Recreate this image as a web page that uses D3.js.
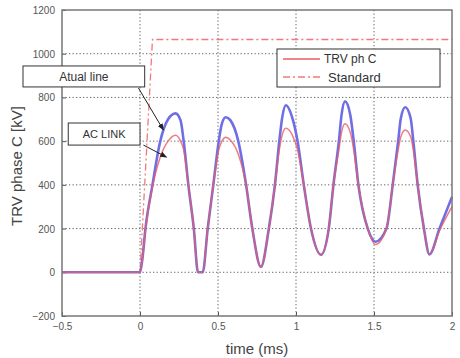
<!DOCTYPE html>
<html>
<head>
<meta charset="utf-8">
<script src="https://cdn.jsdelivr.net/npm/d3@7"></script>
<style>
  body { margin: 0; background: #fff; }
  svg { font-family: "Liberation Sans", Arial, sans-serif; }
</style>
</head>
<body>
<svg id="vis" width="460" height="358"></svg>
<script>
// time axis (ms), shared by both traces
const time = [-0.5, 0, 0.015, 0.035, 0.08, 0.13, 0.18, 0.228, 0.26, 0.28, 0.31, 0.345, 0.372, 0.402, 0.434, 0.47, 0.505,
  0.525, 0.55, 0.58, 0.63, 0.68, 0.72, 0.775, 0.826, 0.865, 0.893, 0.912, 0.935, 0.975, 1.01, 1.05, 1.096, 1.16,
  1.21, 1.24, 1.275, 1.292, 1.314, 1.348, 1.37, 1.40, 1.46, 1.51, 1.58, 1.62, 1.655, 1.672, 1.70, 1.735, 1.752,
  1.78, 1.82, 1.855, 1.92, 2.0];
// "Atual line" (blue)
const atualLine = [0, 0, 60, 200, 400, 600, 700, 727, 695, 600, 400, 200, 0, 0, 200, 400, 600,
  680, 709, 695, 600, 400, 200, 25, 200, 400, 600, 710, 764, 710, 600, 400, 200, 80,
  200, 400, 600, 720, 782, 720, 600, 400, 200, 140, 200, 400, 600, 705, 755, 705, 600,
  400, 200, 82, 200, 345];
// "AC LINK" = TRV ph C (red)
const acLink = [0, 0, 55, 195, 390, 527, 600, 627, 600, 560, 400, 200, 0, 0, 200, 400, 560,
  600, 618, 604, 540, 400, 200, 25, 200, 400, 560, 630, 659, 630, 560, 400, 200, 80,
  200, 400, 560, 640, 680, 640, 560, 400, 200, 127, 200, 400, 560, 620, 651, 620, 560,
  400, 200, 82, 190, 300];
// standard envelope
const standardTime = [-0.5, 0, 0.08, 2];
const standardKV = [0, 0, 1065, 1065];

const xTicks = [-0.5, 0, 0.5, 1, 1.5, 2];
const yTicks = [-200, 0, 200, 400, 600, 800, 1000, 1200];

const svg = d3.select('#vis');
const plot = { left: 62, right: 452, top: 10, bottom: 316 };

const x = d3.scaleLinear().domain([-0.5, 2]).range([plot.left, plot.right]);
const y = d3.scaleLinear().domain([-200, 1200]).range([plot.bottom, plot.top]);

// grid
const grid = svg.append('g').attr('stroke', '#333').attr('stroke-width', 1)
  .attr('stroke-dasharray', '1.3,2.2').attr('opacity', 0.75);
grid.selectAll('line.gx').data(xTicks.slice(1, -1)).enter().append('line')
  .attr('x1', d => x(d)).attr('x2', d => x(d)).attr('y1', plot.top).attr('y2', plot.bottom);
grid.selectAll('line.gy').data(yTicks.slice(1, -1)).enter().append('line')
  .attr('y1', d => y(d)).attr('y2', d => y(d)).attr('x1', plot.left).attr('x2', plot.right);

// axes (inward ticks, MATLAB style)
const xAxis = svg.append('g').attr('transform', 'translate(0,' + plot.bottom + ')')
  .call(d3.axisBottom(x).tickValues(xTicks).tickSize(-4).tickPadding(8).tickFormat(d3.format('')));
const yAxis = svg.append('g').attr('transform', 'translate(' + plot.left + ',0)')
  .call(d3.axisLeft(y).tickValues(yTicks).tickSize(-4).tickPadding(7).tickFormat(d3.format('')));
[xAxis, yAxis].forEach(a => {
  a.select('.domain').remove();
  a.selectAll('line').attr('stroke', '#555');
  a.selectAll('text').attr('fill', '#555').style('font-size', '10px');
});
xAxis.selectAll('text').attr('dy', '0.55em');
yAxis.selectAll('text').attr('dy', '0.35em');

// traces
const pts = vals => time.map((t, i) => [t, vals[i]]);
const line = d3.line().x(d => x(d[0])).y(d => y(d[1])).curve(d3.curveMonotoneX);

svg.append('path').datum(d3.zip(standardTime, standardKV))
  .attr('d', d3.line().x(d => x(d[0])).y(d => y(d[1])))
  .attr('fill', 'none').attr('stroke', '#f07a7a').attr('stroke-width', 1.3)
  .attr('stroke-dasharray', '7,3,2,3');

svg.append('path').datum(pts(atualLine)).attr('d', line)
  .attr('fill', 'none').attr('stroke', '#6f6ee6').attr('stroke-width', 2.6);
svg.append('path').datum(pts(acLink)).attr('d', line)
  .attr('fill', 'none').attr('stroke', '#ee5a60').attr('stroke-width', 1.5).attr('opacity', 0.8);

// frame
svg.append('rect').attr('x', plot.left).attr('y', plot.top)
  .attr('width', plot.right - plot.left).attr('height', plot.bottom - plot.top)
  .attr('fill', 'none').attr('stroke', '#777').attr('stroke-width', 1.5);

// axis titles
svg.append('text').attr('x', (plot.left + plot.right) / 2).attr('y', 354)
  .attr('text-anchor', 'middle').attr('fill', '#444').style('font-size', '15px').text('time (ms)');
svg.append('text').attr('transform', 'translate(22,166) rotate(-90)')
  .attr('text-anchor', 'middle').attr('fill', '#444').style('font-size', '15px').text('TRV phase C [kV]');

// legend
const legend = svg.append('g');
legend.append('rect').attr('x', 277).attr('y', 49).attr('width', 163).attr('height', 38)
  .attr('fill', '#fff').attr('stroke', '#333').attr('stroke-width', 1);
legend.append('line').attr('x1', 283).attr('x2', 320).attr('y1', 59).attr('y2', 59)
  .attr('stroke', '#ee5a60').attr('stroke-width', 1.5);
legend.append('line').attr('x1', 283).attr('x2', 320).attr('y1', 77).attr('y2', 77)
  .attr('stroke', '#f07a7a').attr('stroke-width', 1.3).attr('stroke-dasharray', '7,3,2,3');
legend.append('text').attr('x', 324).attr('y', 63).attr('fill', '#333').style('font-size', '12px').text('TRV ph C');
legend.append('text').attr('x', 328).attr('y', 82).attr('fill', '#333').style('font-size', '13px').text('Standard');

// annotations (positions in data units)
svg.append('defs').append('marker').attr('id', 'arrow').attr('viewBox', '0 0 10 10')
  .attr('refX', 9).attr('refY', 5).attr('markerWidth', 7).attr('markerHeight', 7)
  .attr('orient', 'auto').append('path').attr('d', 'M0,1L10,5L0,9Z').attr('fill', '#222');

const notes = [
  { text: 'Atual line', box: [-0.75, 944, 0.03, 848], from: [-0.01, 843], to: [0.15, 651], size: 12 },
  { text: 'AC LINK', box: [-0.46, 683, 0.0, 582], from: [0.022, 582], to: [0.17, 527], size: 11 }
];
notes.forEach(n => {
  const g = svg.append('g');
  g.append('rect').attr('x', x(n.box[0])).attr('y', y(n.box[1]))
    .attr('width', x(n.box[2]) - x(n.box[0])).attr('height', y(n.box[3]) - y(n.box[1]))
    .attr('fill', '#fff').attr('stroke', '#333').attr('stroke-width', 1);
  g.append('text').attr('x', (x(n.box[0]) + x(n.box[2])) / 2).attr('y', (y(n.box[1]) + y(n.box[3])) / 2)
    .attr('dy', '0.35em').attr('text-anchor', 'middle').attr('fill', '#333')
    .style('font-size', n.size + 'px').text(n.text);
  g.append('line').attr('x1', x(n.from[0])).attr('y1', y(n.from[1]))
    .attr('x2', x(n.to[0])).attr('y2', y(n.to[1]))
    .attr('stroke', '#222').attr('stroke-width', 1).attr('marker-end', 'url(#arrow)');
});
</script>
</body>
</html>
